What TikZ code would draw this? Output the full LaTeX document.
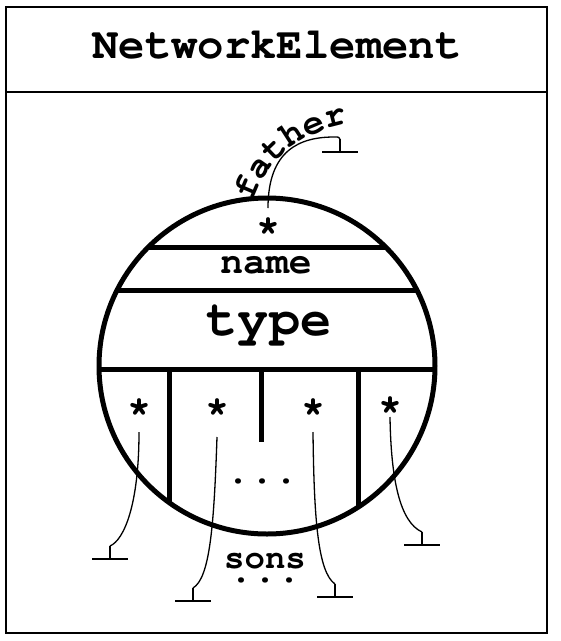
\documentclass[tikz,border=0pt]{standalone}
\usepackage[T1]{fontenc}
\usepackage{courier}
\usetikzlibrary{decorations.text}
\tikzset{
  ground/.pic={
    \draw[pic actions] (0,0) -- (0,13) (-18,13) -- (18,13);
  },
  wire/.style={line width=1.3pt},
  heavy/.style={line width=5pt},
  frame/.style={line width=2.4pt},
  mono/.style={font=\ttfamily\bfseries\fontsize{#1}{#1}\selectfont, inner sep=0pt, anchor=base},
}

\begin{document}
\begin{tikzpicture}[x=1pt, y=-1pt]
                        \useasboundingbox (0,0) rectangle (561,641);
                        \draw[frame] (6,7) rectangle (547,92);
                        \draw[frame] (6,92) rectangle (547,633);
                        \node[mono=44] (title) at (277,58) {NetworkElement};
                        \begin{scope}
                          \clip (267,366) circle[radius=168];
                          \draw[heavy] (90,247) -- (450,247) (90,290) -- (450,290) (90,369) -- (450,369);
                          \draw[heavy] (169,369) -- (169,545) (358,369) -- (358,545);
                        \end{scope}
                        \draw[heavy] (261,369) -- (261,442);
                        \draw[heavy] (267,366) circle[radius=168];
                        \node[mono=38] (name) at (266,273) {name};
                        \node[mono=52] (type) at (269,335) {type};
                        \node[mono=40] (top) at (268,236) {*};
                        \node[mono=40] (s1) at (139,417) {*};
                        \node[mono=40] (s2) at (217,417) {*};
                        \node[mono=40] (s3) at (313,417) {*};
                        \node[mono=40] (s4) at (390,415) {*};
                        \node[mono=40] (inner) at (262,483) {...};
                        \node[mono=34] (sons) at (265,568) {sons};
                        \node[mono=40] (more) at (265,582) {...};
                        \coordinate (gf) at (340,139);
                        \coordinate (g1) at (110,546);
                        \coordinate (g2) at (193,588);
                        \coordinate (g3) at (335,584);
                        \coordinate (g4) at (422,532);
                        \draw[wire] ([yshift=28pt]top.base) .. controls +(0,-58) and +(-34,0) .. (334,137) .. controls (339,137) .. (gf);
                        \draw[wire] ([yshift=-15pt]s1.base) .. controls +(0,73) and +(14,-6) .. (g1);
                        \draw[wire] ([yshift=-20pt]s2.base) .. controls +(-3,88) and +(17,-10) .. (g2);
                        \draw[wire] ([yshift=-15pt]s3.base) .. controls +(1,88) and +(-17,-12) .. (g3);
                        \draw[wire] ([yshift=-2pt]s4.base) .. controls +(1,63) and +(-22,-10) .. (g4);
                        \foreach \g in {gf,g1,g2,g3,g4}
                          \pic[wire] at (\g) {ground};
                        \path[decorate, decoration={text along path, text align=center,
                          text={|\ttfamily\bfseries\fontsize{36}{36}\selectfont|father}}]
                          (251,207) .. controls (262,166) and (295,132) .. (353,123);
                    \end{tikzpicture}
\end{document}
